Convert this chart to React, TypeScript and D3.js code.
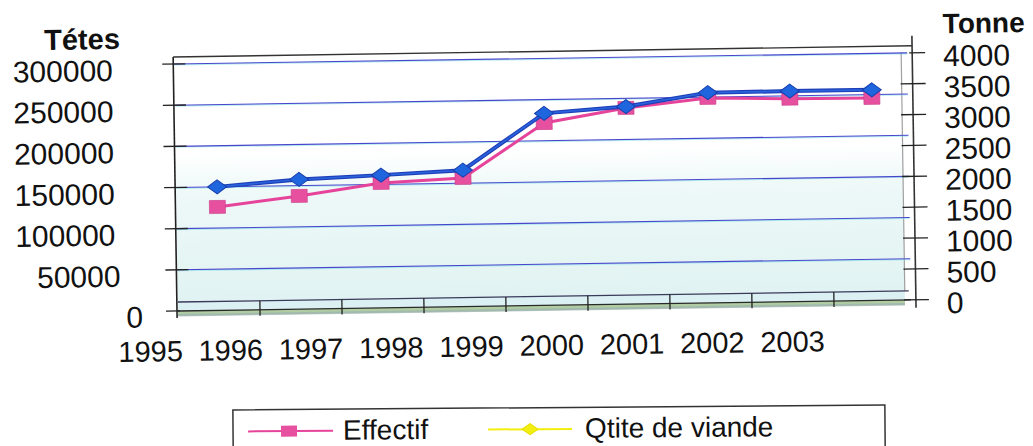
import React from 'react';
import * as d3 from 'd3';

// Categories and series
const years = ['1995', '1996', '1997', '1998', '1999', '2000', '2001', '2002', '2003'];
const effectif = [125600, 137500, 151700, 156300, 221500, 238300, 249000, 246500, 246000];
const qtiteViande = [2000, 2100, 2150, 2210, 3110, 3200, 3405, 3410, 3410];
const leftTicks = [0, 50000, 100000, 150000, 200000, 250000, 300000];
const rightTicks = [0, 500, 1000, 1500, 2000, 2500, 3000, 3500, 4000];

const FONT = '"Liberation Sans", Arial, Helvetica, sans-serif';
const W = 1033;
const H = 446;

// plot frame
const LEFT = 178;
const RIGHT = 916;
const WALL_RIGHT = 905;
const TOP = 57;
const WALL_BOTTOM = 302;
const FLOOR_FRONT = 311;

const x = d3.scaleBand<string>().domain(years).range([LEFT, RIGHT]).padding(0);
const xLabel = d3.scalePoint<string>().domain(years).range([150, 792]);
const yL = d3.scaleLinear().domain([0, 300000]).range([311, 64]);
const yR = d3.scaleLinear().domain([0, 4000]).range([311, 64]);

const cx = (d: string) => (x(d) as number) + x.bandwidth() / 2;

const effLine = d3
  .line<number>()
  .x((_, i) => cx(years[i]))
  .y((v) => yL(v));
const qtiteLine = d3
  .line<number>()
  .x((_, i) => cx(years[i]))
  .y((v) => yR(v));

const leftLabelRight = (v: number) => (v === 0 ? 143 : v < 100000 ? 121 : 116.5);

function Diamond({ px, py, w, h, fill, stroke }: { px: number; py: number; w: number; h: number; fill: string; stroke: string }) {
  return (
    <path
      d={`M${px - w / 2},${py} L${px},${py - h / 2} L${px + w / 2},${py} L${px},${py + h / 2} Z`}
      fill={fill}
      stroke={stroke}
      strokeWidth={1}
    />
  );
}

export default function App() {
  return (
    <svg
      width={W}
      height={H}
      viewBox={`0 0 ${W} ${H}`}
      style={{ position: 'absolute', left: 0, top: 0, background: '#ffffff' }}
      fontFamily={FONT}
    >
      <defs>
        <linearGradient id="wallFill" x1="0" y1="0" x2="0" y2="1">
          <stop offset="0" stopColor="#ffffff" />
          <stop offset="0.4" stopColor="#ffffff" />
          <stop offset="0.55" stopColor="#eef9f8" />
          <stop offset="1" stopColor="#e0f3f2" />
        </linearGradient>
      </defs>

      <g transform={`rotate(-0.87 ${LEFT - 1} ${FLOOR_FRONT})`}>
        {/* back wall */}
        <rect x={LEFT} y={TOP} width={WALL_RIGHT - LEFT} height={WALL_BOTTOM - TOP} fill="url(#wallFill)" />
        <line x1={WALL_RIGHT} x2={WALL_RIGHT} y1={TOP + 6} y2={WALL_BOTTOM} stroke="#a0a0a0" strokeWidth={1.2} />

        {/* gridlines */}
        {leftTicks
          .filter((t) => t > 0)
          .map((t) => (
            <g key={`g${t}`}>
              <line x1={LEFT} x2={WALL_RIGHT + 6} y1={yL(t) + 0.8} y2={yL(t) + 0.8} stroke="#8fe3ea" strokeWidth={1.4} opacity={0.6} />
              <line x1={LEFT} x2={WALL_RIGHT + 6} y1={yL(t)} y2={yL(t)} stroke="#4a46cc" strokeWidth={1.1} />
            </g>
          ))}

        {/* floor */}
        <rect x={LEFT} y={WALL_BOTTOM} width={WALL_RIGHT - LEFT} height={FLOOR_FRONT - WALL_BOTTOM} fill="#daf0f2" />
        <rect x={LEFT} y={FLOOR_FRONT} width={WALL_RIGHT - LEFT} height={5} fill="#afcca2" />
        <rect x={LEFT} y={FLOOR_FRONT + 3} width={WALL_RIGHT - LEFT} height={2.5} fill="#9db2b2" opacity={0.7} />
        <line x1={LEFT} x2={WALL_RIGHT + 4} y1={WALL_BOTTOM} y2={WALL_BOTTOM} stroke="#3a3a5a" strokeWidth={1.3} />
        <line x1={LEFT} x2={WALL_RIGHT + 6} y1={FLOOR_FRONT} y2={FLOOR_FRONT} stroke="#2a2a2a" strokeWidth={1.3} />
        {years.slice(1).map((d) => (
          <line key={`xt${d}`} x1={x(d) as number} x2={x(d) as number} y1={WALL_BOTTOM} y2={FLOOR_FRONT + 6} stroke="#222" strokeWidth={1.3} />
        ))}

        {/* frame and axes */}
        <line x1={LEFT - 1} x2={RIGHT} y1={TOP} y2={TOP} stroke="#333" strokeWidth={1.4} />
        <line x1={LEFT - 1} x2={LEFT - 1} y1={TOP} y2={FLOOR_FRONT + 7} stroke="#222" strokeWidth={1.6} />
        <line x1={RIGHT} x2={RIGHT} y1={TOP - 10} y2={FLOOR_FRONT + 8} stroke="#333" strokeWidth={1.6} />

        {leftTicks.map((t) => (
          <g key={`lt${t}`}>
            <line x1={166} x2={t === 0 ? 180 : 189} y1={yL(t)} y2={yL(t)} stroke="#222" strokeWidth={1.3} />
            <text x={leftLabelRight(t)} y={yL(t) + 16} textAnchor="end" fontSize={30} fill="#111">
              {t}
            </text>
          </g>
        ))}
        {rightTicks.map((t) => (
          <g key={`rt${t}`}>
            <line x1={t === 4000 ? 913 : 904} x2={929} y1={yR(t)} y2={yR(t)} stroke="#222" strokeWidth={1.3} />
            <text x={947} y={yR(t) + 14} textAnchor="start" fontSize={30} fill="#111">
              {t}
            </text>
          </g>
        ))}

        <text x={124} y={48} textAnchor="end" fontSize={29} fontWeight="bold" fill="#111">
          Tétes
        </text>
        <text x={947} y={45} textAnchor="start" fontSize={28} fontWeight="bold" fill="#111">
          Tonne
        </text>

        {years.map((d) => (
          <text key={`xl${d}`} x={xLabel(d)} y={361} textAnchor="middle" fontSize={29} fill="#111">
            {d}
          </text>
        ))}

        {/* Effectif */}
        <path d={effLine(effectif) ?? ''} fill="none" stroke="#e6449b" strokeWidth={3} />
        {effectif.map((v, i) => (
          <rect key={`e${i}`} x={cx(years[i]) - 8} y={yL(v) - 6.5} width={16} height={13} fill="#e7509f" stroke="#c93b88" strokeWidth={0.6} />
        ))}

        {/* Qtite de viande */}
        <path d={qtiteLine(qtiteViande) ?? ''} fill="none" stroke="#1d3fb8" strokeWidth={4} />
        <path d={qtiteLine(qtiteViande) ?? ''} fill="none" stroke="#2a62dc" strokeWidth={1.6} />
        {qtiteViande.map((v, i) => (
          <Diamond key={`q${i}`} px={cx(years[i])} py={yR(v)} w={19} h={14} fill="#1f66de" stroke="#173fae" />
        ))}
      </g>

      {/* legend */}
      <g transform="rotate(-0.44 558 425)">
        <rect x={233} y={407.5} width={652} height={60} fill="#ffffff" stroke="#333" strokeWidth={1.5} />
        <line x1={248} x2={333} y1={429} y2={429} stroke="#e6449b" strokeWidth={2} />
        <rect x={281} y={423.5} width={16} height={11} fill="#e7509f" />
        <text x={343} y={438} fontSize={28} fill="#111">
          Effectif
        </text>
        <line x1={488} x2={572} y1={429} y2={429} stroke="#f2ee10" strokeWidth={2} />
        <Diamond px={530} py={429} w={16} h={11} fill="#f2ee10" stroke="#e8e000" />
        <text x={585} y={438} fontSize={28} fill="#111">
          Qtite de viande
        </text>
      </g>
    </svg>
  );
}
